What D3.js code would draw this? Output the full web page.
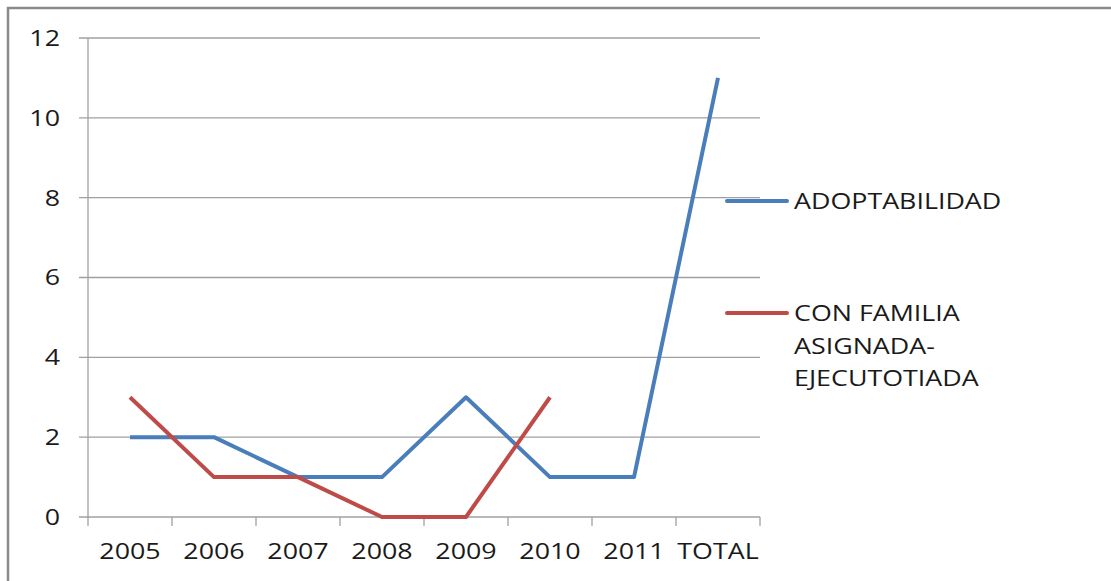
<!DOCTYPE html>
<html><head><meta charset="utf-8">
<script src="https://cdn.jsdelivr.net/npm/d3@7"></script>
<style>
html,body{margin:0;padding:0;background:#fff;}
svg{display:block;font-family:"Open Sans","Liberation Sans",sans-serif;}
</style></head>
<body>
<svg id="c" width="1111" height="581"></svg>
<script>
const categories = ["2005","2006","2007","2008","2009","2010","2011","TOTAL"];
const adoptabilidad = [2,2,1,1,3,1,1,11];
const conFamilia = [3,1,1,0,0,3,null,null];
const yTicks = [0,2,4,6,8,10,12];
const seriesNames = ["ADOPTABILIDAD","CON FAMILIA ASIGNADA-EJECUTOTIADA"];
const legendLines = [["ADOPTABILIDAD"],["CON FAMILIA","ASIGNADA-","EJECUTOTIADA"]];
const colors = ["#4a7ebb","#be4b48"];

(function(){
const svg = d3.select("#c");
const FS = 22, SX = 1.22;
function txt(g, px, py, t, anchor){
  return g.append("text").attr("transform",`translate(${px},${py}) scale(${SX},1)`)
    .attr("dy","0.36em").attr("text-anchor",anchor||"start")
    .attr("font-size",FS).attr("fill","#1a1a1a").text(t);
}
svg.append("path").attr("d","M8,581 V8 H1111").attr("fill","none").attr("stroke","#8a8a8a").attr("stroke-width",2.5);

const pL=88,pR=760,pT=38,pB=517;
const x = d3.scaleBand().domain(categories).range([pL,pR]);
const y = d3.scaleLinear().domain([0,12]).range([pB,pT]);

svg.append("g").selectAll("line").data(yTicks).join("line")
  .attr("x1",pL-9).attr("x2",pR).attr("y1",d=>y(d)).attr("y2",d=>y(d))
  .attr("stroke","#a0a0a0").attr("stroke-width",1.3);
svg.append("line").attr("x1",pL).attr("x2",pL).attr("y1",pT).attr("y2",pB).attr("stroke","#a0a0a0").attr("stroke-width",1.3);
const gy = svg.append("g");
yTicks.forEach(d=>txt(gy,60,y(d),d,"end"));
const bounds = categories.map(c=>x(c)).concat([pR]);
svg.append("g").selectAll("line").data(bounds).join("line")
  .attr("x1",d=>d).attr("x2",d=>d).attr("y1",pB).attr("y2",pB+9)
  .attr("stroke","#a0a0a0").attr("stroke-width",1.3);
const gx = svg.append("g");
categories.forEach(c=>txt(gx,x(c)+x.bandwidth()/2,551,c,"middle"));

const line = d3.line().defined(d=>d.v!==null).x(d=>x(d.c)+x.bandwidth()/2).y(d=>y(d.v));
[adoptabilidad,conFamilia].forEach((s,i)=>{
  svg.append("path").datum(categories.map((c,j)=>({c,v:s[j]})))
    .attr("d",line).attr("fill","none").attr("stroke",colors[i]).attr("stroke-width",4).attr("stroke-linejoin","round");
});

const legY=[201,313];
const gl = svg.append("g");
legendLines.forEach((ls,i)=>{
  gl.append("line").attr("x1",727).attr("x2",787).attr("y1",legY[i]).attr("y2",legY[i])
    .attr("stroke",colors[i]).attr("stroke-width",4).attr("stroke-linecap","round");
  ls.forEach((t,k)=>txt(gl,794,legY[i]+k*32.7,t));
});
})();
</script>
</body></html>
